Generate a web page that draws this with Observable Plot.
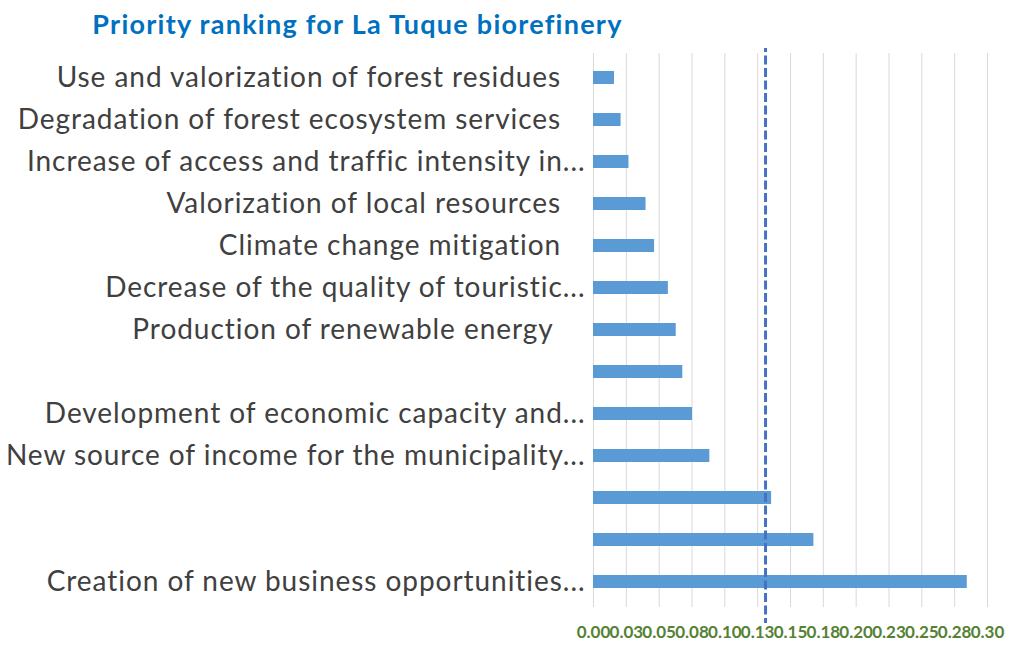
<!DOCTYPE html>
<html>
<head>
<meta charset="utf-8">
<script src="https://cdn.jsdelivr.net/npm/d3@7"></script>
<script src="https://cdn.jsdelivr.net/npm/@observablehq/plot@0.6"></script>
<style>
  body { margin: 0; background: #fff; }
  #wrap { position: relative; width: 1010px; height: 646px; }
  #title { position: absolute; left: 0; top: 7px; width: 715px; text-align: center;
           font: bold 27px Lato, "Open Sans", sans-serif; letter-spacing: 1.25px; color: #0070c0; height: 40px; }
  #chart { position: absolute; left: 0; top: 48px; }
  #chart svg text { white-space: pre; }
  #chart svg g[aria-label="y-axis tick label"] text { letter-spacing: 0.95px; }
</style>
</head>
<body>
<div id="wrap">
  <div id="title">Priority ranking for La Tuque biorefinery</div>
  <div id="chart"></div>
</div>
<script>
const labels = [
  "Use and valorization of forest residues   ",
  "Degradation of forest ecosystem services   ",
  "Increase of access and traffic intensity in...",
  "Valorization of local resources   ",
  "Climate change mitigation   ",
  "Decrease of the quality of touristic...",
  "Production of renewable energy    ",
  "",
  "Development of economic capacity and...",
  "New source of income for the municipality...",
  "",
  "",
  "Creation of new business opportunities..."
];
const values = [0.016, 0.021, 0.027, 0.040, 0.0465, 0.057, 0.063, 0.068, 0.0754, 0.0886, 0.1356, 0.1678, 0.2846];
const meanValue = 0.131;
const tickValues = [0, 0.025, 0.05, 0.075, 0.1, 0.125, 0.15, 0.175, 0.2, 0.225, 0.25, 0.275, 0.3];
const tickLabels = ["0.00","0.03","0.05","0.08","0.10","0.13","0.15","0.18","0.20","0.23","0.25","0.28","0.30"];

const rows = values.map((v, i) => ({i, value: v}));

const chart = Plot.plot({
  width: 1010,
  height: 598,
  marginLeft: 593,
  marginRight: 23,
  marginTop: 5,
  marginBottom: 39,
  style: {fontFamily: "Lato, 'Open Sans', sans-serif", background: "#fff"},
  x: {domain: [0, 0.3]},
  y: {domain: d3.range(labels.length), paddingInner: 0.69, paddingOuter: 0.3625},
  marks: [
    Plot.gridX(tickValues, {stroke: "#d9d9d9", strokeOpacity: 1, strokeWidth: 1}),
    Plot.barX(rows, {x: "value", y: "i", fill: "#5b9bd5"}),
    Plot.ruleX([meanValue], {stroke: "#4472c4", strokeWidth: 3, strokeDasharray: "9,3.5", insetTop: -10, insetBottom: -16}),
    Plot.axisY({tickSize: 0, tickPadding: 8, fontSize: 28, fill: "#404040", label: null,
                tickFormat: i => labels[i]}),
    Plot.axisX(tickValues, {tickSize: 0, tickPadding: 18, fontSize: 17, fontWeight: "bold", fill: "#548235",
                label: null, tickFormat: (d, i) => tickLabels[i]})
  ]
});
document.getElementById("chart").appendChild(chart);
</script>
</body>
</html>
